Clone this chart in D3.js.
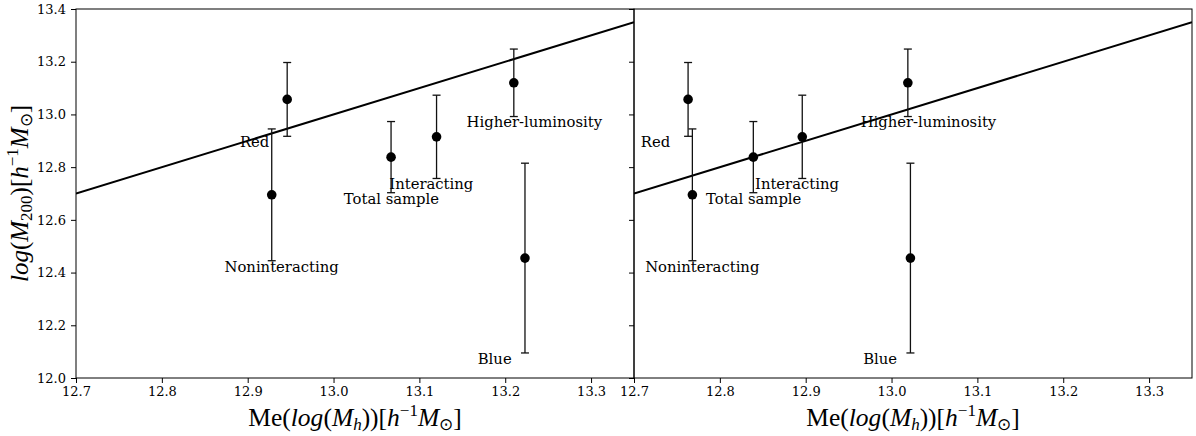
<!DOCTYPE html>
<html>
<head>
<meta charset="utf-8">
<script src="https://cdn.jsdelivr.net/npm/d3@7"></script>
<style>
  body { margin: 0; background: #fff; }
  svg { display: block; }
  .tick text { font-family: "DejaVu Serif", serif; font-size: 13px; fill: #000; }
</style>
</head>
<body>
<svg id="chart" width="1196" height="436"></svg>
<script>
// ---- data ----
const categories = ["Red", "Noninteracting", "Total sample", "Interacting", "Higher-luminosity", "Blue"];
const xLeft  = [12.946, 12.928, 13.067, 13.120, 13.210, 13.223];
const xRight = [12.763, 12.768, 12.839, 12.896, 13.019, 13.022];
const yM200  = [13.057, 12.695, 12.838, 12.915, 13.120, 12.455];
const yErr   = [0.140, 0.250, 0.135, 0.158, 0.128, 0.360];
const xTicks = [12.7, 12.8, 12.9, 13.0, 13.1, 13.2, 13.3];
const yTicks = [12.0, 12.2, 12.4, 12.6, 12.8, 13.0, 13.2, 13.4];
const xDomain = [12.7, 13.35];
const yDomain = [12.0, 13.4];
const oneToOne = [12.7, 13.35];

// ---- layout ----
const svg = d3.select("#chart");
const plotTop = 9, plotBottom = 378;
const panels = [
  { left: 76,  right: 634,  xs: xLeft,  yLabels: true },
  { left: 634, right: 1192, xs: xRight, yLabels: false }
];
const labelDx = -0.055, labelDy = -0.041;

const y = d3.scaleLinear().domain(yDomain).range([plotBottom, plotTop]);

panels.forEach(p => {
  const x = d3.scaleLinear().domain(xDomain).range([p.left, p.right]);
  const g = svg.append("g");

  const cid = "clip" + p.left;
  svg.append("clipPath").attr("id", cid).append("rect")
    .attr("x", p.left).attr("y", plotTop).attr("width", p.right - p.left).attr("height", plotBottom - plotTop);

  // 1:1 line
  g.append("line")
    .attr("clip-path", `url(#${cid})`)
    .attr("x1", x(oneToOne[0])).attr("y1", y(oneToOne[0]))
    .attr("x2", x(oneToOne[1])).attr("y2", y(oneToOne[1]))
    .attr("stroke", "#000").attr("stroke-width", 2);

  // error bars
  const pts = categories.map((c, i) => ({ c, x: p.xs[i], y: yM200[i], e: yErr[i] }));
  const eb = g.append("g").attr("stroke", "#111").attr("stroke-width", 1.3);
  pts.forEach(d => {
    eb.append("line").attr("x1", x(d.x)).attr("x2", x(d.x))
      .attr("y1", y(d.y - d.e)).attr("y2", y(d.y + d.e));
    [d.y - d.e, d.y + d.e].forEach(v => {
      eb.append("line").attr("x1", x(d.x) - 4).attr("x2", x(d.x) + 4)
        .attr("y1", y(v)).attr("y2", y(v));
    });
  });
  g.selectAll("circle.pt").data(pts).join("circle")
    .attr("class", "pt")
    .attr("cx", d => x(d.x)).attr("cy", d => y(d.y)).attr("r", 4.8)
    .attr("fill", "#000");

  // labels
  g.selectAll("text.lab").data(pts).join("text")
    .attr("class", "lab")
    .attr("x", d => x(d.x + labelDx))
    .attr("y", d => y(d.y - d.e + labelDy))
    .attr("font-family", "DejaVu Serif, serif")
    .attr("font-size", 14.8)
    .attr("fill", "#000")
    .text(d => d.c);

  // axes
  const xAxis = d3.axisBottom(x).tickValues(xTicks).tickSize(5).tickPadding(4)
    .tickFormat(d3.format(".1f"));
  const gx = svg.append("g").attr("transform", `translate(0,${plotBottom})`).call(xAxis);
  gx.select(".domain").remove();
  gx.selectAll(".tick line").attr("stroke", "#000").attr("stroke-width", 1);

  const yAxis = d3.axisLeft(y).tickValues(yTicks).tickSize(5).tickPadding(5)
    .tickFormat(p.yLabels ? d3.format(".1f") : () => "");
  const gy = svg.append("g").attr("transform", `translate(${p.left},0)`).call(yAxis);
  gy.select(".domain").remove();
  gy.selectAll(".tick line").attr("stroke", "#000").attr("stroke-width", 1);

  // frame
  svg.append("rect").attr("x", p.left).attr("y", plotTop)
    .attr("width", p.right - p.left).attr("height", plotBottom - plotTop)
    .attr("fill", "none").attr("stroke", "#000").attr("stroke-width", 1);

  // x label
  const xl = svg.append("text")
    .attr("x", (p.left + p.right) / 2).attr("y", 426)
    .attr("text-anchor", "middle")
    .attr("font-family", "Liberation Serif, serif").attr("font-size", 25.5).attr("fill", "#000");
  xl.append("tspan").text("Me(");
  xl.append("tspan").attr("font-style", "italic").text("log");
  xl.append("tspan").text("(");
  xl.append("tspan").attr("font-style", "italic").text("M");
  xl.append("tspan").attr("font-style", "italic").attr("font-size", 17).attr("dy", 4).text("h");
  xl.append("tspan").attr("dy", -4).text("))[");
  xl.append("tspan").attr("font-style", "italic").text("h");
  xl.append("tspan").attr("font-size", 17).attr("dy", -10).text("−1");
  xl.append("tspan").attr("font-style", "italic").attr("dy", 10).text("M");
  xl.append("tspan").attr("font-size", 17).attr("dy", 4).text("⊙");
  xl.append("tspan").attr("dy", -4).text("]");
});

// y label
const yl = svg.append("text")
  .attr("transform", `translate(28,${(plotTop + plotBottom) / 2}) rotate(-90)`)
  .attr("text-anchor", "middle")
  .attr("font-family", "Liberation Serif, serif").attr("font-size", 25).attr("fill", "#000");
yl.append("tspan").attr("font-style", "italic").text("log");
yl.append("tspan").text("(");
yl.append("tspan").attr("font-style", "italic").text("M");
yl.append("tspan").attr("font-size", 17).attr("dy", 4).text("200");
yl.append("tspan").attr("dy", -4).text(")[");
yl.append("tspan").attr("font-style", "italic").text("h");
yl.append("tspan").attr("font-size", 17).attr("dy", -10).text("−1");
yl.append("tspan").attr("font-style", "italic").attr("dy", 10).text("M");
yl.append("tspan").attr("font-size", 17).attr("dy", 4).text("⊙");
yl.append("tspan").attr("dy", -4).text("]");
</script>
</body>
</html>
